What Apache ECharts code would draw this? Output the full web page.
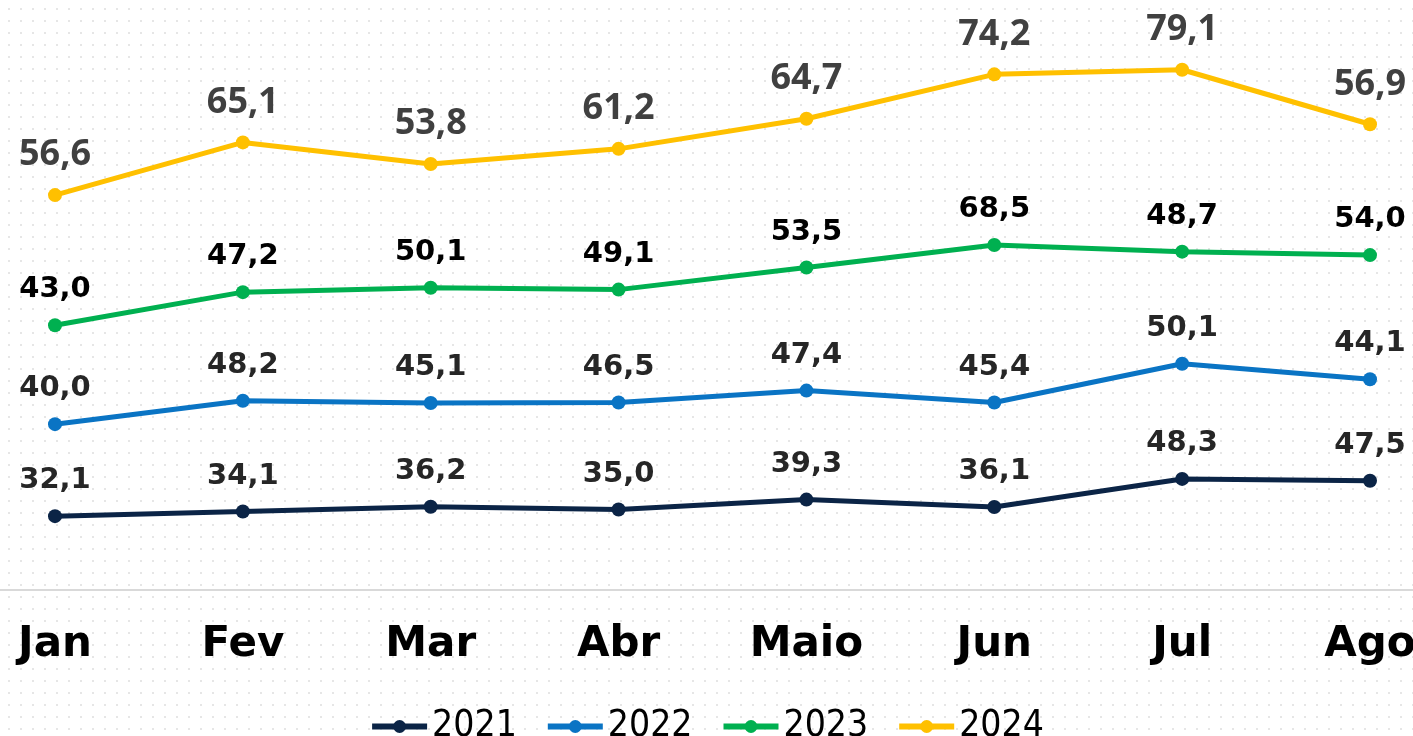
<!DOCTYPE html>
<html><head><meta charset="utf-8">
<script src="https://cdn.jsdelivr.net/npm/echarts@6/dist/echarts.min.js"></script>
<style>
html,body{margin:0;padding:0;width:1413px;height:736px;overflow:hidden;
background-color:#fff;
background-image:radial-gradient(circle,#e6e6e6 0.9px,transparent 1.3px);
background-size:12px 12px;background-position:3px 3px;}
#c{width:1413px;height:736px;}
</style></head>
<body><div id="c"></div>
<script>
const categories = ['Jan','Fev','Mar','Abr','Maio','Jun','Jul','Ago'];
const s2021 = [32.1, 34.1, 36.2, 35.0, 39.3, 36.1, 48.3, 47.5];
const s2022 = [40.0, 48.2, 45.1, 46.5, 47.4, 45.4, 50.1, 44.1];
const s2023 = [43.0, 47.2, 50.1, 49.1, 53.5, 68.5, 48.7, 54.0];
const s2024 = [56.6, 65.1, 53.8, 61.2, 64.7, 74.2, 79.1, 56.9];
const seriesNames = ['2021','2022','2023','2024'];

const chart = echarts.init(document.getElementById('c'), null, {renderer:'canvas'});
const fmt = p => p.value.toFixed(1).replace('.', ',');
function mk(name, data, color, lbl){
  return {
    name, type:'line', stack:'total', data,
    symbol:'circle', symbolSize:14, showSymbol:true,
    lineStyle:{color, width:5}, itemStyle:{color},
    label:Object.assign({show:true, position:'top', formatter:fmt}, lbl),
    z: 3
  };
}
const boldLbl = {fontFamily:'DejaVu Sans', fontWeight:'bold', fontSize:29, color:'#262626', distance:14};
chart.setOption({
  animation:false,
  grid:{left:55, right:43, top:15, bottom:146, outerBoundsMode:'none', containLabel:false},
  xAxis:{type:'category', data:categories, boundaryGap:false,
    axisLine:{show:false}, axisTick:{show:false},
    axisLabel:{fontFamily:'DejaVu Sans', fontWeight:'bold', fontSize:42, color:'#000', margin:34}},
  yAxis:{type:'value', min:0, max:250, show:false, splitLine:{show:false}},
  legend:{data:seriesNames, top:703, left:'center', itemWidth:55, itemHeight:16, itemGap:28,
    lineStyle:{width:6},
    textStyle:{fontFamily:"'Liberation Sans Narrow','DejaVu Sans Condensed',sans-serif", fontSize:37, color:'#000'}},
  graphic:[{type:'rect', shape:{x:0, y:589, width:1413, height:2}, style:{fill:'#d9d9d9'}, z:-1}],
  series:[
    mk('2021', s2021, '#0b2446', boldLbl),
    mk('2022', s2022, '#0a74c4', boldLbl),
    mk('2023', s2023, '#00b050', Object.assign({}, boldLbl, {color:'#000'})),
    mk('2024', s2024, '#ffc000', {fontFamily:'Open Sans', fontWeight:'bold', fontSize:36, color:'#404040', distance:15})
  ]
});
</script></body></html>
